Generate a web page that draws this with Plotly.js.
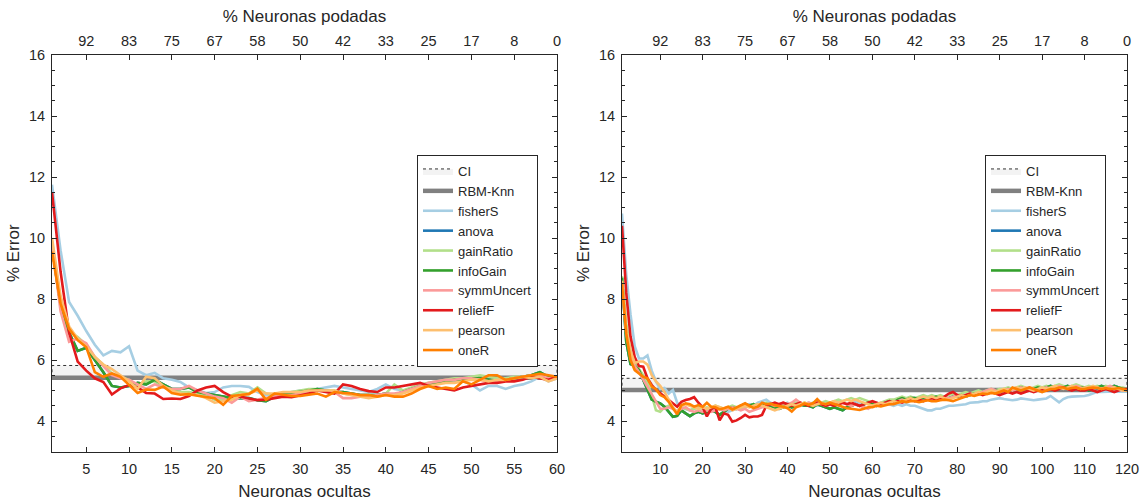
<!DOCTYPE html>
<html>
<head>
<meta charset="utf-8">
<script src="https://cdn.plot.ly/plotly-3.0.1.min.js"></script>
<style>html,body{margin:0;padding:0;background:#fff;}#chart{width:1141px;height:504px;}</style>
</head>
<body>
<div id="chart"></div>
<script>
// ---------- DATA ----------
const seriesNames = ['fisherS','anova','gainRatio','infoGain','symmUncert','reliefF','pearson','oneR'];
const seriesColors = ['#a6cee3','#1f78b4','#b2df8a','#33a02c','#fb9a99','#e31a1c','#fdbf6f','#ff7f00'];
const topLabels = ['92','83','75','67','58','50','42','33','25','17','8','0'];

// Left panel (1..60 hidden neurons)
const xLeft = [1,2,3,4,5,6,7,8,9,10,11,12,13,14,15,16,17,18,19,20,21,22,23,24,25,26,27,28,29,30,31,32,33,34,35,36,37,38,39,40,41,42,43,44,45,46,47,48,49,50,51,52,53,54,55,56,57,58,59,60];
const topTickLeft = [5,10,15,20,25,30,35,40,45,50,55,60];
const rbmLeft = 5.42;
const ciUpperLeft = 5.82;

const fisherSL = [11.75,9.6,7.9,7.45,6.95,6.5,6.15,6.3,6.25,6.45, 5.65,5.5,5.58,5.4,5.35,5.28,5.1,5.0,4.92,4.95, 5.1,5.15,5.15,5.12,4.95,4.85,4.85,4.9,4.95,5.0, 5.0,5.05,5.12,5.15,5.1,5.05,5.0,4.95,5.05,5.2, 5.05,5.0,5.05,5.1,5.2,5.25,5.3,5.3,5.3,5.2, 5.0,5.15,5.15,5.05,5.15,5.2,5.3,5.45,5.3,5.4];
const anovaL = [9.7,7.8,6.9,6.3,6.4,6.0,5.6,5.15,5.1,5.15, 5.25,5.2,5.35,5.2,5.05,5.05,5.1,4.95,4.9,4.85, 4.8,4.75,4.75,4.75,4.68,4.65,4.8,4.9,4.92,4.95, 5.0,5.05,5.0,4.95,4.95,4.9,4.85,4.85,4.85,4.9, 4.85,4.95,5.05,5.15,5.2,5.25,5.3,5.35,5.35,5.4, 5.4,5.35,5.3,5.35,5.4,5.45,5.5,5.6,5.45,5.4];
const gainRatioL = [9.9,7.9,6.95,6.75,6.5,6.1,5.85,5.55,5.45,5.35, 5.15,5.3,5.3,5.1,5.0,4.95,4.95,4.9,4.85,4.7, 4.7,4.85,4.95,4.9,5.1,4.9,4.85,4.9,4.95,5.0, 5.05,5.05,5.0,5.0,4.9,4.85,4.8,4.8,4.85,4.9, 5.2,5.0,5.1,5.2,5.25,5.3,5.35,5.4,5.4,5.45, 5.5,5.45,5.4,5.4,5.45,5.45,5.5,5.5,5.4,5.45];
const infoGainL = [9.7,7.8,6.9,6.3,6.4,6.0,5.6,5.15,5.1,5.15, 5.25,5.2,5.35,5.2,5.05,5.05,5.1,4.95,4.9,4.85, 4.8,4.75,4.75,4.75,4.68,4.65,4.8,4.9,4.92,4.95, 5.0,5.05,5.0,4.95,4.95,4.9,4.85,4.85,4.85,4.9, 4.85,4.95,5.05,5.15,5.2,5.25,5.3,5.35,5.35,5.4, 5.4,5.35,5.3,5.35,5.4,5.45,5.5,5.6,5.45,5.4];
const symmUncertL = [9.8,7.6,6.6,6.7,6.55,6.1,5.8,5.5,5.4,5.35, 5.2,5.05,5.2,5.1,5.05,5.05,5.15,5.0,4.9,4.8, 4.75,4.6,4.8,4.65,4.7,4.75,4.8,4.85,4.85,4.9, 4.95,5.0,5.0,4.95,4.75,4.75,4.8,4.8,4.85,4.9, 4.9,4.95,5.05,5.15,5.25,5.3,5.35,5.35,5.4,5.4, 5.35,5.3,5.3,5.35,5.4,5.45,5.5,5.5,5.4,5.4];
const reliefFL = [11.5,8.9,6.9,5.95,5.65,5.4,5.28,4.87,5.07,5.18, 5.1,4.92,4.9,4.72,4.74,4.72,4.82,5.0,5.1,5.15, 4.95,4.8,4.8,4.75,4.68,4.7,4.75,4.8,4.78,4.85, 4.9,5.0,4.95,4.9,5.2,5.15,5.05,4.98,4.95,5.1, 5.1,5.15,5.2,5.25,5.15,5.1,5.05,5.0,5.1,5.15, 5.2,5.25,5.25,5.3,5.3,5.35,5.45,5.4,5.35,5.45];
const pearsonL = [10.0,8.1,7.1,6.7,6.45,6.1,5.85,5.7,5.5,5.3, 5.05,5.45,5.4,5.15,5.0,4.9,4.88,4.85,4.75,4.6, 4.65,4.7,4.85,4.9,5.0,4.9,4.9,4.95,4.95,4.95, 5.0,5.0,5.0,5.0,4.9,4.85,4.82,4.75,4.8,4.85, 4.85,4.9,5.0,5.1,5.15,5.2,5.25,5.25,5.3,5.35, 5.35,5.3,5.35,5.35,5.4,5.45,5.4,5.45,5.3,5.4];
const oneRL = [9.55,7.85,7.02,6.65,6.42,5.6,5.45,5.56,5.45,5.2, 4.92,5.03,5.02,5.13,4.92,4.86,4.88,4.83,4.8,4.75, 4.53,4.82,4.85,4.88,5.06,4.7,4.9,4.85,4.82,4.82, 4.85,4.9,4.8,4.95,4.92,4.9,4.85,4.85,4.8,4.85, 4.8,4.8,4.9,5.05,5.15,5.05,5.1,5.05,5.3,5.2, 5.35,5.5,5.5,5.35,5.4,5.45,5.5,5.55,5.5,5.45];

// Right panel (1..120 hidden neurons)
const xRight = [1,2,3,4,5,6,7,8,9,10,11,12,13,14,15,16,17,18,19,20,21,22,23,24,25,26,27,28,29,30,31,32,33,34,35,36,37,38,39,40,41,42,43,44,45,46,47,48,49,50,51,52,53,54,55,56,57,58,59,60,61,62,63,64,65,66,67,68,69,70,71,72,73,74,75,76,77,78,79,80,81,82,83,84,85,86,87,88,89,90,91,92,93,94,95,96,97,98,99,100,101,102,103,104,105,106,107,108,109,110,111,112,113,114,115,116,117,118,119,120];
const topTickRight = [10,20,30,40,50,60,70,80,90,100,110,120];
const rbmRight = 5.02;
const ciUpperRight = 5.40;

const fisherSR = [10.8,8.8,7.5,6.45,6.05,6.05,6.15,5.65,5.3,5.05, 5.08,4.9,5.02,4.6,4.45,4.4,4.35,4.4,4.45,4.4, 4.35,4.4,4.45,4.4,4.35,4.3,4.35,4.4,4.45,4.5, 4.55,4.5,4.6,4.65,4.7,4.6,4.55,4.5,4.55,4.6, 4.5,4.55,4.5,4.55,4.6,4.55,4.5,4.55,4.6,4.55, 4.6,4.65,4.6,4.55,4.6,4.65,4.6,4.55,4.6,4.55, 4.6,4.55,4.6,4.55,4.5,4.55,4.5,4.55,4.5,4.5, 4.45,4.4,4.35,4.35,4.4,4.4,4.45,4.5,4.5,4.52, 4.55,4.55,4.6,4.6,4.62,4.65,4.65,4.7,4.72,4.75, 4.72,4.7,4.68,4.7,4.74,4.72,4.7,4.68,4.7,4.72, 4.74,4.82,4.7,4.61,4.72,4.78,4.8,4.8,4.82,4.82, 4.85,4.9,4.96,4.95,4.96,4.95,4.97,4.96,4.95,4.96];
const anovaR = [8.7,6.6,5.87,5.81,5.67,5.34,5.0,4.7,4.63,4.58, 4.47,4.3,4.14,4.17,4.35,4.25,4.16,4.25,4.3,4.25, 4.3,4.35,4.3,4.2,4.3,4.4,4.45,4.4,4.5,4.55, 4.5,4.55,4.45,4.5,4.55,4.5,4.45,4.4,4.45,4.5, 4.45,4.5,4.55,4.5,4.5,4.45,4.55,4.5,4.45,4.4, 4.45,4.4,4.35,4.45,4.5,4.55,4.5,4.55,4.6,4.55, 4.5,4.55,4.6,4.65,4.6,4.7,4.75,4.7,4.75,4.75, 4.7,4.75,4.7,4.75,4.8,4.75,4.7,4.75,4.8,4.8, 4.85,4.8,4.85,4.9,4.9,4.95,4.9,4.95,5.0,4.95, 5.0,5.05,5.0,5.05,5.1,5.05,5.0,5.05,5.1,5.05, 5.1,5.15,5.1,5.05,5.1,5.15,5.1,5.05,5.1,5.1, 5.0,5.05,5.1,5.15,5.1,5.1,5.15,5.1,5.05,5.05];
const gainRatioR = [8.75,7.2,6.3,5.95,5.7,5.5,5.25,4.85,4.35,4.3, 4.45,4.5,4.4,4.3,4.45,4.4,4.35,4.4,4.45,4.4, 4.45,4.4,4.5,4.45,4.4,4.45,4.5,4.45,4.4,4.45, 4.5,4.55,4.5,4.55,4.6,4.5,4.45,4.5,4.55,4.5, 4.55,4.6,4.55,4.6,4.55,4.6,4.65,4.6,4.65,4.6, 4.65,4.7,4.65,4.7,4.75,4.7,4.75,4.7,4.65,4.6, 4.55,4.6,4.65,4.7,4.7,4.75,4.8,4.75,4.8,4.75, 4.8,4.85,4.8,4.85,4.8,4.85,4.8,4.85,4.9,4.85, 4.9,4.95,4.9,4.95,5.0,4.95,5.0,5.05,5.0,5.05, 5.05,5.1,5.05,5.1,5.15,5.1,5.05,5.1,5.15,5.1, 5.15,5.1,5.15,5.2,5.15,5.1,5.15,5.2,5.15,5.1, 5.15,5.1,5.15,5.1,5.15,5.1,5.05,5.1,5.1,5.05];
const infoGainR = [8.7,6.6,5.87,5.81,5.67,5.34,5.0,4.7,4.63,4.58, 4.47,4.3,4.14,4.17,4.35,4.25,4.16,4.25,4.3,4.25, 4.3,4.35,4.3,4.2,4.3,4.4,4.45,4.4,4.5,4.55, 4.5,4.55,4.45,4.5,4.55,4.5,4.45,4.4,4.45,4.5, 4.45,4.5,4.55,4.5,4.5,4.45,4.55,4.5,4.45,4.4, 4.45,4.4,4.35,4.45,4.5,4.55,4.5,4.55,4.6,4.55, 4.5,4.55,4.6,4.65,4.6,4.7,4.75,4.7,4.75,4.75, 4.7,4.75,4.7,4.75,4.8,4.75,4.7,4.75,4.8,4.8, 4.85,4.8,4.85,4.9,4.9,4.95,4.9,4.95,5.0,4.95, 5.0,5.05,5.0,5.05,5.1,5.05,5.0,5.05,5.1,5.05, 5.1,5.15,5.1,5.05,5.1,5.15,5.1,5.05,5.1,5.1, 5.0,5.05,5.1,5.15,5.1,5.1,5.15,5.1,5.05,5.05];
const symmUncertR = [8.5,6.9,6.1,5.8,5.6,5.35,5.1,4.85,4.6,4.4, 4.4,4.45,4.4,4.3,4.4,4.45,4.35,4.3,4.35,4.3, 4.35,4.3,4.35,4.4,4.35,4.4,4.45,4.4,4.35,4.4, 4.3,4.35,4.4,4.45,4.5,4.55,4.5,4.55,4.6,4.55, 4.6,4.7,4.6,4.55,4.6,4.55,4.6,4.55,4.5,4.55, 4.6,4.55,4.6,4.55,4.5,4.55,4.5,4.45,4.4,4.5, 4.5,4.55,4.6,4.55,4.6,4.65,4.7,4.65,4.7,4.65, 4.7,4.65,4.7,4.75,4.7,4.75,4.8,4.75,4.8,4.85, 4.8,4.85,4.9,4.85,4.9,4.95,5.0,5.05,5.0,4.95, 5.0,5.05,5.0,5.05,5.1,5.05,5.1,5.05,5.0,5.05, 5.1,5.05,5.1,5.15,5.1,5.05,5.1,5.15,5.1,5.05, 5.1,5.05,5.1,5.05,5.1,5.15,5.1,5.05,5.0,5.05];
const reliefFR = [10.4,8.2,6.77,6.1,5.8,5.78,5.4,5.18,5.02,4.91, 4.8,4.71,4.58,4.47,4.63,4.69,4.72,4.78,4.6,4.45, 4.15,4.4,4.45,4.02,4.25,4.2,3.98,4.02,4.1,4.2, 4.12,4.15,4.15,4.2,4.5,4.55,4.6,4.55,4.6,4.55, 4.5,4.55,4.6,4.55,4.5,4.55,4.6,4.55,4.5,4.55, 4.5,4.55,4.6,4.55,4.6,4.55,4.5,4.55,4.6,4.65, 4.6,4.55,4.6,4.65,4.6,4.65,4.6,4.65,4.7,4.65, 4.7,4.65,4.7,4.75,4.7,4.75,4.8,4.9,4.95,4.85, 4.8,4.85,4.9,4.85,4.9,4.85,4.9,4.95,4.9,4.85, 4.9,4.95,4.9,4.95,4.9,4.95,5.0,4.95,5.0,5.05, 5.0,5.05,5.0,5.05,5.1,5.05,5.0,5.05,5.0,5.0, 5.05,5.0,4.95,5.0,5.05,5.0,4.95,5.0,5.05,5.05];
const pearsonR = [8.6,7.0,6.3,5.9,5.95,5.95,5.85,5.5,5.3,5.15, 4.95,4.7,4.45,4.3,4.5,4.55,4.5,4.45,4.4,4.45, 4.4,4.45,4.5,4.45,4.4,4.45,4.35,4.4,4.45,4.5, 4.45,4.5,4.55,4.5,4.45,4.4,4.35,4.4,4.45,4.5, 4.55,4.5,4.55,4.6,4.55,4.5,4.55,4.6,4.55,4.6, 4.65,4.6,4.65,4.7,4.65,4.7,4.65,4.6,4.55,4.5, 4.55,4.6,4.55,4.6,4.65,4.6,4.65,4.7,4.75,4.7, 4.75,4.8,4.75,4.8,4.75,4.8,4.75,4.7,4.75,4.8, 4.85,4.8,4.85,4.9,4.95,4.9,4.95,5.0,4.95,5.0, 5.05,5.0,5.05,5.1,5.05,5.1,5.05,5.0,5.05,5.1, 5.05,5.1,5.15,5.1,5.05,5.1,5.15,5.1,5.05,5.1, 5.1,5.15,5.1,5.05,5.1,5.05,5.1,5.05,5.0,5.0];
const oneRR = [8.5,6.87,6.0,5.67,5.56,5.45,5.4,5.13,5.04,4.85, 4.78,4.63,4.42,4.22,4.52,4.58,4.55,4.47,4.52,4.47, 4.6,4.47,4.45,4.38,4.42,4.47,4.38,4.45,4.5,4.58, 4.5,4.42,4.47,4.6,4.55,4.57,4.52,4.5,4.47,4.42, 4.31,4.45,4.5,4.58,4.53,4.58,4.72,4.58,4.55,4.6, 4.55,4.5,4.45,4.42,4.4,4.38,4.36,4.4,4.45,4.45, 4.5,4.48,4.52,4.55,4.55,4.6,4.65,4.62,4.65,4.65, 4.62,4.65,4.68,4.65,4.65,4.68,4.7,4.68,4.65,4.7, 4.75,4.8,4.85,4.82,4.85,4.9,4.88,4.92,4.9,4.95, 5.0,4.95,5.1,5.05,5.0,5.05,5.1,5.05,5.0,4.95, 5.0,5.05,5.05,5.1,5.1,5.05,5.08,5.1,5.05,5.05, 5.08,5.1,5.08,5.05,5.08,5.05,5.05,5.08,5.05,5.0];

const leftSeries = [fisherSL, anovaL, gainRatioL, infoGainL, symmUncertL, reliefFL, pearsonL, oneRL];
const rightSeries = [fisherSR, anovaR, gainRatioR, infoGainR, symmUncertR, reliefFR, pearsonR, oneRR];

// ---------- STYLE ----------
const FONT = 'Liberation Sans, Arial, Helvetica, sans-serif';
const TXT = '#262626';

function panelTraces(xs, ys, rbm, ciUp, xa, ya, xaTop, legendId) {
  const x0 = xs[0], x1 = xs[xs.length - 1];
  const tr = [];
  tr.push({
    x: [x0, x1, x1, x0, x0], y: [rbm, rbm, ciUp, ciUp, rbm],
    type: 'scatter', mode: 'lines', fill: 'toself', fillcolor: '#f3f3f3',
    line: {color: '#333333', width: 1, dash: 'dot'},
    name: 'CI', xaxis: xa, yaxis: ya, legend: legendId, hoverinfo: 'skip'
  });
  tr.push({
    x: [x0, x1], y: [rbm, rbm], type: 'scatter', mode: 'lines',
    line: {color: '#808080', width: 4.5}, name: 'RBM-Knn',
    xaxis: xa, yaxis: ya, legend: legendId
  });
  ys.forEach((s, i) => {
    tr.push({
      x: xs, y: s, type: 'scatter', mode: 'lines',
      line: {color: seriesColors[i], width: 2.6},
      name: seriesNames[i], xaxis: xa, yaxis: ya, legend: legendId
    });
  });
  tr.push({x: [x0], y: [null], type: 'scatter', mode: 'lines', xaxis: xaTop, yaxis: ya,
           showlegend: false, hoverinfo: 'skip'});
  return tr;
}

const data = [].concat(
  panelTraces(xLeft, leftSeries, rbmLeft, ciUpperLeft, 'x', 'y', 'x3', 'legend'),
  panelTraces(xRight, rightSeries, rbmRight, ciUpperRight, 'x2', 'y2', 'x4', 'legend2')
);

const dL = [52/1141, 557/1141];
const dR = [622/1141, 1127/1141];
const dY = [(504-451.5)/504, (504-55)/504];

function xBottom(domain, range, t0, dt, anchor) {
  return {
    domain: domain, range: range, anchor: anchor,
    tickmode: 'linear', tick0: t0, dtick: dt,
    ticks: 'inside', ticklen: 5, tickwidth: 1, tickcolor: TXT,
    ticklabelstandoff: 4,
    showline: true, linecolor: TXT, linewidth: 1, mirror: true,
    showgrid: false, zeroline: false,
    tickfont: {family: FONT, size: 14.5, color: TXT},
    title: {text: 'Neuronas ocultas', font: {family: FONT, size: 17, color: TXT}, standoff: 9}
  };
}
function xTop(range, vals, overl, anchor) {
  return {
    overlaying: overl, anchor: anchor, side: 'top', range: range,
    tickmode: 'array', tickvals: vals, ticktext: topLabels,
    ticks: 'inside', ticklen: 5, tickwidth: 1, tickcolor: TXT,
    ticklabelstandoff: 5,
    showline: false, showgrid: false, zeroline: false,
    tickfont: {family: FONT, size: 14.5, color: TXT},
    title: {text: '% Neuronas podadas', font: {family: FONT, size: 17, color: TXT}, standoff: 6}
  };
}
function yAxis(anchor) {
  return {
    domain: dY, range: [3, 16], anchor: anchor,
    tickmode: 'linear', tick0: 4, dtick: 2,
    ticks: 'inside', ticklen: 5, tickwidth: 1, tickcolor: TXT,
    ticklabelstandoff: 3,
    minor: {tick0: 0, dtick: 0.5, ticks: 'inside', ticklen: 3, tickcolor: TXT, showgrid: false},
    showline: true, linecolor: TXT, linewidth: 1, mirror: 'ticks',
    showgrid: false, zeroline: false,
    tickfont: {family: FONT, size: 14.5, color: TXT},
    title: {text: '% Error', font: {family: FONT, size: 17, color: TXT}, standoff: 5}
  };
}
function legendBox(xr) {
  return {
    x: xr, xanchor: 'right', y: (504-155)/504, yanchor: 'top',
    bgcolor: '#ffffff', bordercolor: TXT, borderwidth: 1,
    font: {family: FONT, size: 13, color: TXT},
    traceorder: 'normal', itemwidth: 30, tracegroupgap: 0
  };
}

const layout = {
  width: 1141, height: 504,
  margin: {l: 0, r: 0, t: 0, b: 0},
  paper_bgcolor: '#ffffff', plot_bgcolor: '#ffffff',
  showlegend: true,
  font: {family: FONT, color: TXT},
  xaxis: xBottom(dL, [1, 60], 5, 5, 'y'),
  yaxis: yAxis('x'),
  xaxis2: xBottom(dR, [1, 120], 10, 10, 'y2'),
  yaxis2: yAxis('x2'),
  xaxis3: xTop([1, 60], topTickLeft, 'x', 'y'),
  xaxis4: xTop([1, 120], topTickRight, 'x2', 'y2'),
  legend: legendBox(538/1141),
  legend2: legendBox(1106/1141)
};

Plotly.newPlot('chart', data, layout, {displayModeBar: false, staticPlot: true});
</script>
</body>
</html>
